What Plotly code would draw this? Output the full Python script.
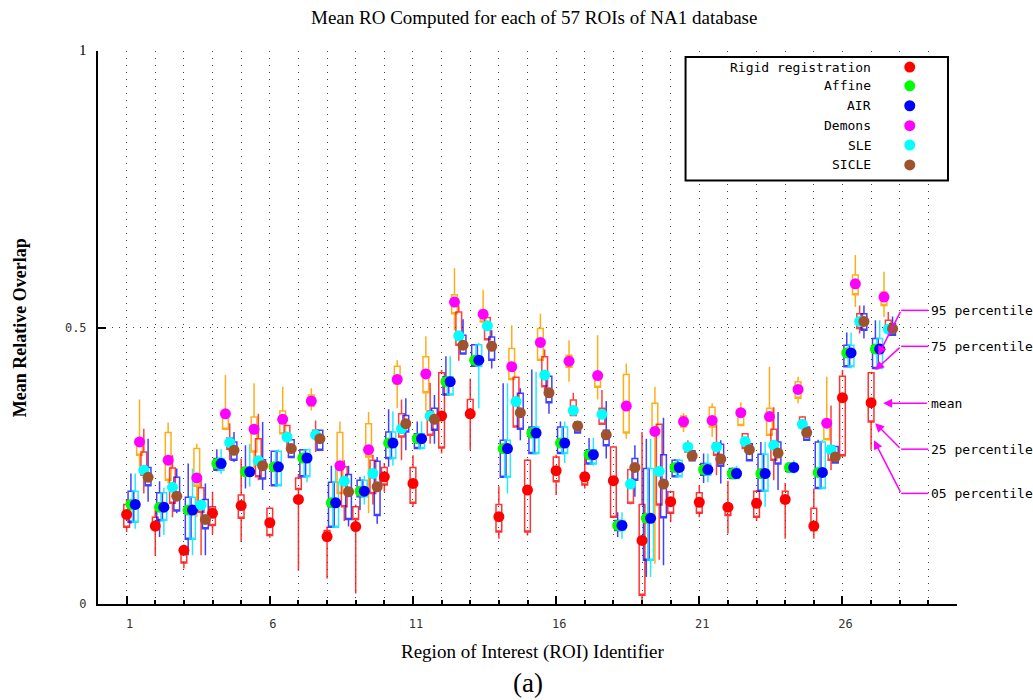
import plotly.graph_objects as go

rois = list(range(1, 28))
method_names = ["Rigid registration", "Affine", "AIR", "Demons", "SLE", "SICLE"]
dot_colors = ["#ff0000", "#00ff00", "#0000ff", "#ff00ff", "#00ffff", "#a0522d"]
box_colors = ["rgba(255,0,0,0.8)", "rgba(0,0,255,0.75)", "rgba(0,230,255,0.85)",
              "rgba(255,165,0,0.9)", "rgba(255,0,0,0.75)", "rgba(0,0,255,0.75)"]
offsets = [0.0, 0.15, 0.30, 0.45, 0.60, 0.75]

rigid_mean = [0.162,0.141,0.097,0.164,0.178,0.147,0.189,0.122,0.140,0.230,0.218,0.340,0.344,0.158,0.206,0.241,0.230,0.223,0.115,0.185,0.184,0.175,0.182,0.189,0.141,0.373,0.364]
rigid_p05 = [0.130,0.087,0.064,0.126,0.112,0.120,0.060,0.046,0.019,0.203,0.176,0.272,0.278,0.118,0.124,0.197,0.209,0.155,0.005,0.148,0.157,0.127,0.150,0.118,0.118,0.266,0.279]
rigid_p25 = [0.139,0.136,0.074,0.142,0.155,0.124,0.207,0.115,0.153,0.215,0.182,0.282,0.350,0.130,0.130,0.221,0.215,0.157,0.016,0.164,0.164,0.160,0.157,0.182,0.133,0.268,0.329]
rigid_p75 = [0.180,0.157,0.103,0.176,0.197,0.173,0.228,0.133,0.176,0.247,0.247,0.418,0.370,0.180,0.260,0.266,0.237,0.284,0.180,0.203,0.201,0.180,0.204,0.204,0.173,0.412,0.418]
rigid_p95 = [0.190,0.170,0.107,0.203,0.263,0.175,0.235,0.140,0.180,0.255,0.269,0.423,0.408,0.213,0.262,0.270,0.266,0.286,0.311,0.205,0.215,0.223,0.206,0.219,0.209,0.423,0.420]

affine_mean = [0.180,0.175,0.170,0.254,0.239,0.248,0.264,0.183,0.204,0.291,0.299,0.402,0.441,0.281,0.309,0.291,0.270,0.142,0.155,0.247,0.243,0.236,0.236,0.247,0.238,0.454,0.461]
affine_p05 = [0.145,0.121,0.088,0.240,0.209,0.214,0.230,0.139,0.170,0.248,0.281,0.378,0.430,0.229,0.272,0.272,0.253,0.121,0.049,0.230,0.219,0.227,0.204,0.239,0.209,0.429,0.426]
affine_p25 = [0.148,0.151,0.117,0.242,0.233,0.214,0.230,0.139,0.194,0.263,0.281,0.378,0.430,0.229,0.272,0.272,0.253,0.133,0.079,0.230,0.233,0.227,0.204,0.239,0.209,0.429,0.426]
affine_p75 = [0.204,0.201,0.193,0.263,0.247,0.276,0.279,0.220,0.224,0.311,0.308,0.411,0.469,0.296,0.320,0.320,0.279,0.151,0.245,0.260,0.254,0.245,0.271,0.254,0.293,0.468,0.480]
affine_p95 = [0.236,0.222,0.254,0.280,0.287,0.277,0.280,0.250,0.230,0.352,0.330,0.448,0.470,0.399,0.424,0.330,0.300,0.166,0.299,0.262,0.272,0.247,0.293,0.256,0.297,0.491,0.513]

air_mean = [0.180,0.175,0.170,0.254,0.239,0.248,0.264,0.183,0.204,0.291,0.299,0.402,0.441,0.281,0.309,0.291,0.270,0.142,0.155,0.247,0.243,0.236,0.236,0.247,0.238,0.454,0.461]
air_p05 = [0.136,0.125,0.088,0.235,0.212,0.214,0.220,0.139,0.180,0.250,0.281,0.378,0.354,0.200,0.270,0.255,0.250,0.118,0.049,0.230,0.220,0.227,0.176,0.236,0.209,0.426,0.426]
air_p25 = [0.148,0.151,0.117,0.242,0.233,0.214,0.230,0.139,0.194,0.263,0.281,0.378,0.430,0.229,0.272,0.272,0.253,0.133,0.079,0.230,0.233,0.227,0.204,0.239,0.209,0.429,0.426]
air_p75 = [0.204,0.201,0.193,0.263,0.247,0.276,0.279,0.220,0.224,0.311,0.308,0.411,0.469,0.296,0.320,0.320,0.279,0.151,0.245,0.260,0.254,0.245,0.271,0.254,0.293,0.468,0.480]
air_p95 = [0.236,0.210,0.245,0.280,0.290,0.280,0.280,0.250,0.232,0.348,0.330,0.448,0.472,0.399,0.420,0.330,0.300,0.166,0.299,0.262,0.272,0.250,0.293,0.260,0.297,0.491,0.513]

demons_mean = [0.293,0.260,0.228,0.344,0.316,0.334,0.367,0.250,0.279,0.406,0.416,0.546,0.524,0.429,0.473,0.439,0.413,0.358,0.312,0.330,0.332,0.346,0.339,0.388,0.327,0.579,0.555]
demons_p05 = [0.248,0.218,0.157,0.314,0.245,0.308,0.350,0.200,0.164,0.354,0.350,0.495,0.510,0.406,0.441,0.402,0.370,0.299,0.073,0.311,0.302,0.323,0.305,0.363,0.297,0.537,0.519]
demons_p25 = [0.269,0.224,0.213,0.316,0.275,0.308,0.358,0.200,0.266,0.398,0.382,0.525,0.510,0.406,0.441,0.428,0.392,0.309,0.311,0.320,0.320,0.323,0.305,0.372,0.297,0.559,0.540]
demons_p75 = [0.299,0.310,0.281,0.344,0.338,0.349,0.378,0.310,0.326,0.430,0.447,0.559,0.531,0.462,0.498,0.450,0.408,0.415,0.363,0.340,0.356,0.350,0.354,0.402,0.329,0.595,0.564]
demons_p95 = [0.370,0.328,0.290,0.414,0.399,0.393,0.390,0.330,0.347,0.441,0.484,0.607,0.568,0.504,0.525,0.477,0.486,0.435,0.393,0.345,0.363,0.365,0.429,0.411,0.411,0.631,0.601]

sle_mean = [0.242,0.211,0.179,0.292,0.259,0.302,0.306,0.222,0.236,0.317,0.340,0.485,0.503,0.366,0.414,0.350,0.343,0.217,0.240,0.284,0.284,0.294,0.287,0.325,0.279,0.511,0.497]
sle_p05 = [0.200,0.157,0.088,0.260,0.224,0.280,0.275,0.150,0.180,0.260,0.290,0.440,0.478,0.320,0.380,0.341,0.325,0.180,0.080,0.275,0.233,0.281,0.224,0.318,0.242,0.489,0.486]
sle_p25 = [0.233,0.182,0.166,0.280,0.230,0.298,0.300,0.176,0.200,0.302,0.305,0.468,0.478,0.320,0.393,0.341,0.325,0.182,0.179,0.275,0.269,0.281,0.260,0.320,0.260,0.498,0.495]
sle_p75 = [0.275,0.246,0.210,0.300,0.299,0.323,0.314,0.248,0.260,0.344,0.349,0.528,0.518,0.410,0.447,0.369,0.354,0.243,0.325,0.290,0.291,0.308,0.316,0.338,0.286,0.525,0.513]
sle_p95 = [0.317,0.269,0.230,0.327,0.344,0.323,0.332,0.260,0.270,0.370,0.400,0.540,0.518,0.410,0.460,0.382,0.387,0.243,0.325,0.296,0.325,0.308,0.356,0.340,0.359,0.540,0.528]

sicle_mean = [0.229,0.195,0.153,0.278,0.250,0.281,0.299,0.203,0.212,0.326,0.334,0.468,0.466,0.346,0.382,0.322,0.306,0.247,0.217,0.268,0.262,0.279,0.273,0.310,0.266,0.511,0.498]
sicle_p05 = [0.185,0.164,0.088,0.257,0.206,0.265,0.278,0.140,0.145,0.278,0.290,0.452,0.426,0.296,0.344,0.309,0.263,0.194,0.070,0.259,0.218,0.259,0.206,0.296,0.255,0.480,0.486]
sicle_p25 = [0.214,0.168,0.136,0.260,0.226,0.265,0.278,0.153,0.160,0.311,0.314,0.452,0.441,0.316,0.364,0.309,0.286,0.224,0.156,0.259,0.249,0.259,0.253,0.296,0.255,0.495,0.486]
sicle_p75 = [0.247,0.229,0.189,0.293,0.261,0.297,0.314,0.234,0.258,0.341,0.354,0.486,0.483,0.381,0.412,0.329,0.314,0.263,0.270,0.277,0.289,0.290,0.293,0.320,0.285,0.525,0.507]
sicle_p95 = [0.299,0.245,0.218,0.311,0.329,0.297,0.314,0.250,0.266,0.372,0.378,0.515,0.495,0.390,0.412,0.329,0.367,0.287,0.337,0.277,0.296,0.290,0.347,0.320,0.285,0.540,0.520]

x_tick_vals = [1, 6, 11, 16, 21, 26]
y_tick_vals = [0, 0.5, 1]
y_tick_text = ["0", "0.5", "<span style='font-family:Liberation Serif;font-size:15px;color:black'>1</span>"]

# callouts on the right (labels and y positions)
callout_labels = ["95 percentile", "75 percentile", "mean", "25 percentile", "05 percentile"]
callout_text_y = [0.531, 0.466, 0.363, 0.280, 0.200]
callout_head_x = [27.25, 27.14, 27.42, 27.14, 27.10]
callout_head_y = [0.450, 0.423, 0.363, 0.327, 0.296]

stats = [
    (rigid_mean, rigid_p05, rigid_p25, rigid_p75, rigid_p95),
    (affine_mean, affine_p05, affine_p25, affine_p75, affine_p95),
    (air_mean, air_p05, air_p25, air_p75, air_p95),
    (demons_mean, demons_p05, demons_p25, demons_p75, demons_p95),
    (sle_mean, sle_p05, sle_p25, sle_p75, sle_p95),
    (sicle_mean, sicle_p05, sicle_p25, sicle_p75, sicle_p95),
]

fig = go.Figure()

for i, (mean, p05, p25, p75, p95) in enumerate(stats):
    xs = [r + offsets[i] for r in rois]
    fig.add_trace(go.Box(
        x=xs, q1=p25, median=p25, q3=p75, lowerfence=p05, upperfence=p95,
        width=0.2, whiskerwidth=0, boxpoints=False,
        line=dict(color=box_colors[i], width=1.5),
        fillcolor="rgba(0,0,0,0)", showlegend=False, hoverinfo="skip",
    ))

for i, (mean, p05, p25, p75, p95) in enumerate(stats):
    xs = [r + offsets[i] for r in rois]
    fig.add_trace(go.Scatter(
        x=xs, y=mean, mode="markers",
        marker=dict(size=11, color=dot_colors[i], line=dict(width=0)),
        showlegend=False, hoverinfo="skip", name=method_names[i],
    ))

grid_dash = "1px,6px"
fig.update_layout(
    width=1033, height=700,
    margin=dict(l=98, r=76, t=51, b=96),
    plot_bgcolor="white", paper_bgcolor="white",
    boxmode="overlay", showlegend=False,
    xaxis=dict(
        range=[0, 30], tickvals=x_tick_vals, ticktext=[str(v) for v in x_tick_vals],
        ticks="inside", ticklen=8, tickwidth=2, tickcolor="black",
        showgrid=True, gridcolor="#444", gridwidth=1, griddash=grid_dash,
        showline=True, linecolor="black", linewidth=2, zeroline=False,
        minor=dict(tick0=0, dtick=1, ticks="inside", ticklen=4, tickwidth=2,
                   tickcolor="black", showgrid=True, gridcolor="#444", griddash=grid_dash),
        tickfont=dict(family="DejaVu Sans Mono", size=12, color="#333"),
        ticklabelstandoff=8, ticklabelshift=3,
    ),
    yaxis=dict(
        range=[0, 1], tickvals=y_tick_vals, ticktext=y_tick_text,
        ticks="inside", ticklen=8, tickwidth=2, tickcolor="black",
        showgrid=True, gridcolor="#444", gridwidth=1, griddash=grid_dash,
        showline=True, linecolor="black", linewidth=2, zeroline=False,
        tickfont=dict(family="DejaVu Sans Mono", size=12, color="#333"),
        ticklabelstandoff=7,
    ),
)

serif = "Liberation Serif"
ann = [
    dict(text="Mean RO Computed for each of 57 ROIs of NA1 database", x=0.507, y=1.0597,
         xref="paper", yref="paper", showarrow=False, xanchor="center", yanchor="middle",
         font=dict(family=serif, size=19, color="black")),
    dict(text="Region of Interest (ROI) Identifier", x=0.506, y=-0.0874,
         xref="paper", yref="paper", showarrow=False, xanchor="center", yanchor="middle",
         font=dict(family=serif, size=19, color="black")),
    dict(text="(a)", x=0.5, y=-0.1435, xref="paper", yref="paper", showarrow=False,
         xanchor="center", yanchor="middle", font=dict(family=serif, size=27, color="black")),
    dict(text="<b>Mean Relative Overlap</b>", x=-0.0912, y=0.5, xref="paper", yref="paper",
         showarrow=False, textangle=-90, xanchor="center", yanchor="middle",
         font=dict(family=serif, size=18, color="black")),
]

# legend box (text left, dot right)
legend_rows_y = [0.971, 0.937, 0.901, 0.865, 0.830, 0.794]
shapes = [dict(type="rect", xref="paper", yref="paper", x0=0.684, x1=0.9895, y0=0.766, y1=0.989,
               line=dict(color="black", width=2), fillcolor="white", layer="above")]
for name, col, yy in zip(method_names, dot_colors, legend_rows_y):
    ann.append(dict(text=name, x=0.902, y=yy, xref="paper", yref="paper", showarrow=False,
                    xanchor="right", yanchor="middle",
                    font=dict(family="DejaVu Sans Mono", size=13, color="black")))
    shapes.append(dict(type="circle", xref="paper", yref="paper", xsizemode="pixel",
                       ysizemode="pixel", xanchor=0.945, yanchor=yy, x0=-5.5, x1=5.5,
                       y0=-5.5, y1=5.5, fillcolor=col, line=dict(width=0), layer="above"))

# callouts to the ROI 27 rigid-registration box
mag = "#ff00ff"
for lab, ty, hx, hy in zip(callout_labels, callout_text_y, callout_head_x, callout_head_y):
    ann.append(dict(text=lab, x=29.03, y=ty, xref="x", yref="y", showarrow=False,
                    xanchor="left", yanchor="middle",
                    font=dict(family="DejaVu Sans Mono", size=13, color="black")))
    if lab == "mean":
        ann.append(dict(text="", x=hx, y=hy, ax=29.0, ay=ty, xref="x", yref="y",
                        axref="x", ayref="y", showarrow=True, arrowhead=2, arrowsize=1.2,
                        arrowwidth=1.5, arrowcolor=mag, standoff=0, startstandoff=0))
    else:
        shapes.append(dict(type="line", xref="x", yref="y", x0=28.05, x1=29.0, y0=ty, y1=ty,
                           line=dict(color=mag, width=1.5)))
        ann.append(dict(text="", x=hx, y=hy, ax=28.05, ay=ty, xref="x", yref="y",
                        axref="x", ayref="y", showarrow=True, arrowhead=2, arrowsize=1.2,
                        arrowwidth=1.5, arrowcolor=mag, standoff=0, startstandoff=0))

fig.update_layout(annotations=ann, shapes=shapes)
fig.write_html("out.html", config={"displayModeBar": False},
               post_script="document.body.style.margin='0';document.body.style.overflow='hidden';")
